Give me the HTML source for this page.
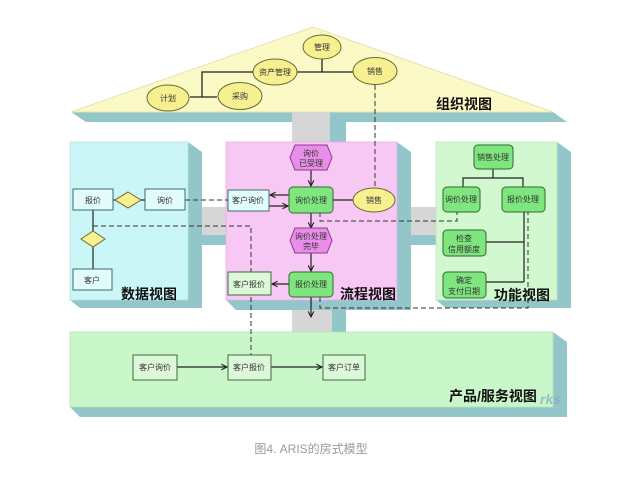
<!DOCTYPE html>
<html><head><meta charset="utf-8"><style>
html,body{margin:0;padding:0;background:#fff;}
svg{display:block;}
text{font-family:"Liberation Sans","Noto Sans CJK SC",sans-serif;}
.s{font-size:8px;fill:#333;text-anchor:middle;}
.lab{font-size:14px;font-weight:bold;fill:#111;}
</style></head><body>
<svg width="617" height="477" viewBox="0 0 617 477" xmlns="http://www.w3.org/2000/svg">
<defs>
<marker id="ar" viewBox="0 0 10 10" refX="9" refY="5" markerWidth="7" markerHeight="7" orient="auto" markerUnits="userSpaceOnUse">
<polyline points="1,1 9,5 1,9" fill="none" stroke="#222" stroke-width="1.6"/>
</marker>
</defs>
<rect width="617" height="477" fill="#fff"/>

<!-- roof -->
<polygon points="71,112 553,112 567,122 86,122" fill="#93c6c8"/>
<polygon points="71,112 313,27 553,112" fill="#fbf9c6" stroke="#e6e3b0" stroke-width="1"/>

<!-- vertical gray connectors -->
<rect x="292" y="112" width="38" height="30" fill="#d6d6d6"/>
<rect x="330" y="122" width="16" height="20" fill="#93c6c8"/>
<rect x="292" y="300" width="40" height="32" fill="#d6d6d6"/>
<rect x="332" y="300" width="14" height="32" fill="#93c6c8"/>

<!-- horizontal connectors -->
<rect x="188" y="207" width="40" height="28" fill="#d6d6d6"/>
<rect x="188" y="235" width="40" height="10" fill="#93c6c8"/>
<rect x="397" y="207" width="40" height="28" fill="#d6d6d6"/>
<rect x="397" y="235" width="40" height="10" fill="#93c6c8"/>

<!-- data view panel -->
<polygon points="70,300 188,300 188,142 202,152 202,308 80,308" fill="#93c6c8"/>
<rect x="70" y="142" width="118" height="158" fill="#cbf6f8" stroke="#b5e3e5" stroke-width="0.8"/>

<!-- process view panel -->
<polygon points="226,300 397,300 397,142 411,152 411,310 236,310" fill="#93c6c8"/>
<rect x="226" y="142" width="171" height="158" fill="#f7c8f4" stroke="#e6b0e3" stroke-width="0.8"/>

<!-- function view panel -->
<polygon points="436,300 557,300 557,142 571,152 571,308 446,308" fill="#93c6c8"/>
<rect x="436" y="142" width="121" height="158" fill="#d2f8d0" stroke="#bde6bb" stroke-width="0.8"/>

<!-- product view panel -->
<polygon points="70,407 553,407 553,332 567,342 567,417 80,417" fill="#93c6c8"/>
<rect x="70" y="332" width="483" height="75" fill="#c9f7c9" stroke="#b3e3b3" stroke-width="0.8"/>

<!-- roof lines -->
<g stroke="#222" stroke-width="1.3" fill="none">
<line x1="322" y1="59" x2="322" y2="72"/>
<line x1="297" y1="72" x2="353" y2="72"/>
<polyline points="253,72 202,72 202,97"/>
<line x1="190" y1="97" x2="217" y2="97"/>
</g>
<line x1="375" y1="85" x2="375" y2="188" stroke="#333" stroke-width="1" stroke-dasharray="5,3"/>

<!-- roof ellipses -->
<g fill="#f6f091" stroke="#6b6a30" stroke-width="1">
<ellipse cx="322" cy="47" rx="19" ry="12"/>
<ellipse cx="275" cy="72" rx="22" ry="13"/>
<ellipse cx="375" cy="71" rx="22" ry="13.5"/>
<ellipse cx="168" cy="98" rx="21" ry="13"/>
<ellipse cx="240" cy="96" rx="22" ry="13.5"/>
</g>
<text class="s" x="322" y="50">管理</text>
<text class="s" x="275" y="75">资产管理</text>
<text class="s" x="375" y="74">销售</text>
<text class="s" x="168" y="101">计划</text>
<text class="s" x="240" y="99">采购</text>
<text class="lab" x="436" y="109">组织视图</text>

<!-- dashed connectors -->
<g stroke="#333" stroke-width="1" fill="none" stroke-dasharray="5,3">
<line x1="185" y1="200" x2="228" y2="200"/>
<polyline points="93,226 251,226 251,272"/>
<line x1="251" y1="297" x2="251" y2="355"/>
<polyline points="320,212 320,221 457,221 457,212"/>
<polyline points="320,297 320,308 528,308 528,212"/>
</g>

<!-- data view nodes -->
<g stroke="#222" stroke-width="1.2">
<line x1="113" y1="200" x2="145" y2="200"/>
<line x1="93" y1="210" x2="93" y2="269"/>
</g>
<g fill="#e2fbfb" stroke="#3d6b6b" stroke-width="1">
<rect x="73" y="189" width="40" height="21"/>
<rect x="145" y="189" width="40" height="21"/>
<rect x="73" y="269" width="39" height="21"/>
</g>
<g fill="#f6f091" stroke="#6b6a30" stroke-width="1">
<polygon points="128,192 141,200 128,208 115,200"/>
<polygon points="93,231 105,239 93,247 81,239"/>
</g>
<text class="s" x="93" y="203">报价</text>
<text class="s" x="165" y="203">询价</text>
<text class="s" x="92" y="283">客户</text>
<text class="lab" x="121" y="299">数据视图</text>

<!-- process view -->
<g stroke="#222" stroke-width="1.2" fill="none">
<line x1="311" y1="170" x2="311" y2="186" marker-end="url(#ar)"/>
<line x1="289" y1="195" x2="270" y2="195" marker-end="url(#ar)"/>
<line x1="269" y1="206" x2="288" y2="206" marker-end="url(#ar)"/>
<line x1="333" y1="200" x2="353" y2="200"/>
<line x1="311" y1="213" x2="311" y2="228" marker-end="url(#ar)"/>
<line x1="311" y1="253" x2="311" y2="271" marker-end="url(#ar)"/>
<line x1="289" y1="284" x2="272" y2="284" marker-end="url(#ar)"/>
<line x1="311" y1="297" x2="311" y2="317" marker-end="url(#ar)"/>
</g>
<g fill="#e88de8" stroke="#8a3a8a" stroke-width="1">
<polygon points="295,145 327,145 332,157.5 327,170 295,170 290,157.5"/>
<polygon points="295,228 327,228 332,240.5 327,253 295,253 290,240.5"/>
</g>
<g fill="#7fe57f" stroke="#2e6a2e" stroke-width="1">
<rect x="289" y="187" width="44" height="26" rx="4"/>
<rect x="289" y="272" width="44" height="25" rx="4"/>
</g>
<rect x="228" y="190" width="41" height="21" fill="#e2fbfb" stroke="#3d6b6b" stroke-width="1"/>
<rect x="228" y="272" width="43" height="23" fill="#dcf8d8" stroke="#3d6b3d" stroke-width="1"/>
<ellipse cx="374" cy="200" rx="21" ry="12" fill="#f6f091" stroke="#6b6a30" stroke-width="1"/>
<text class="s" x="311" y="156">询价</text>
<text class="s" x="311" y="166">已受理</text>
<text class="s" x="311" y="203">询价处理</text>
<text class="s" x="248" y="203">客户询价</text>
<text class="s" x="374" y="203">销售</text>
<text class="s" x="311" y="239">询价处理</text>
<text class="s" x="311" y="249">完毕</text>
<text class="s" x="311" y="287">报价处理</text>
<text class="s" x="249" y="287">客户报价</text>
<text class="lab" x="340" y="299">流程视图</text>

<!-- function view -->
<g stroke="#222" stroke-width="1.2" fill="none">
<polyline points="493,169 493,178"/>
<polyline points="463,187 463,178 523,178 523,187"/>
<line x1="524" y1="212" x2="524" y2="282"/>
<line x1="486" y1="242" x2="524" y2="242"/>
<line x1="486" y1="282" x2="524" y2="282"/>
</g>
<g fill="#7fe57f" stroke="#2e6a2e" stroke-width="1">
<rect x="474" y="145" width="39" height="24" rx="4"/>
<rect x="443" y="187" width="37" height="25" rx="4"/>
<rect x="502" y="187" width="43" height="25" rx="4"/>
<rect x="443" y="230" width="43" height="26" rx="4"/>
<rect x="443" y="272" width="43" height="26" rx="4"/>
</g>
<text class="s" x="493" y="160">销售处理</text>
<text class="s" x="461" y="202">询价处理</text>
<text class="s" x="523" y="202">报价处理</text>
<text class="s" x="464" y="241">检查</text>
<text class="s" x="464" y="252">信用额度</text>
<text class="s" x="464" y="283">确定</text>
<text class="s" x="464" y="294">支付日期</text>
<text class="lab" x="494" y="300">功能视图</text>

<!-- product view -->
<g stroke="#222" stroke-width="1.2" fill="none">
<line x1="177" y1="367" x2="227" y2="367" marker-end="url(#ar)"/>
<line x1="271" y1="367" x2="322" y2="367" marker-end="url(#ar)"/>
</g>
<g fill="#dcf8d8" stroke="#3d6b3d" stroke-width="1">
<rect x="133" y="355" width="44" height="25"/>
<rect x="228" y="355" width="43" height="25"/>
<rect x="323" y="355" width="42" height="25"/>
</g>
<text class="s" x="155" y="370">客户询价</text>
<text class="s" x="249" y="370">客户报价</text>
<text class="s" x="344" y="370">客户订单</text>
<text x="540" y="404" font-size="14" font-style="italic" font-weight="bold" fill="#8aa4c8" opacity="0.7">rks</text>
<text class="lab" x="449" y="401">产品/服务视图</text>

<!-- caption -->
<text x="311" y="453" font-size="12" fill="#999" text-anchor="middle">图4. ARIS的房式模型</text>
</svg>
</body></html>
